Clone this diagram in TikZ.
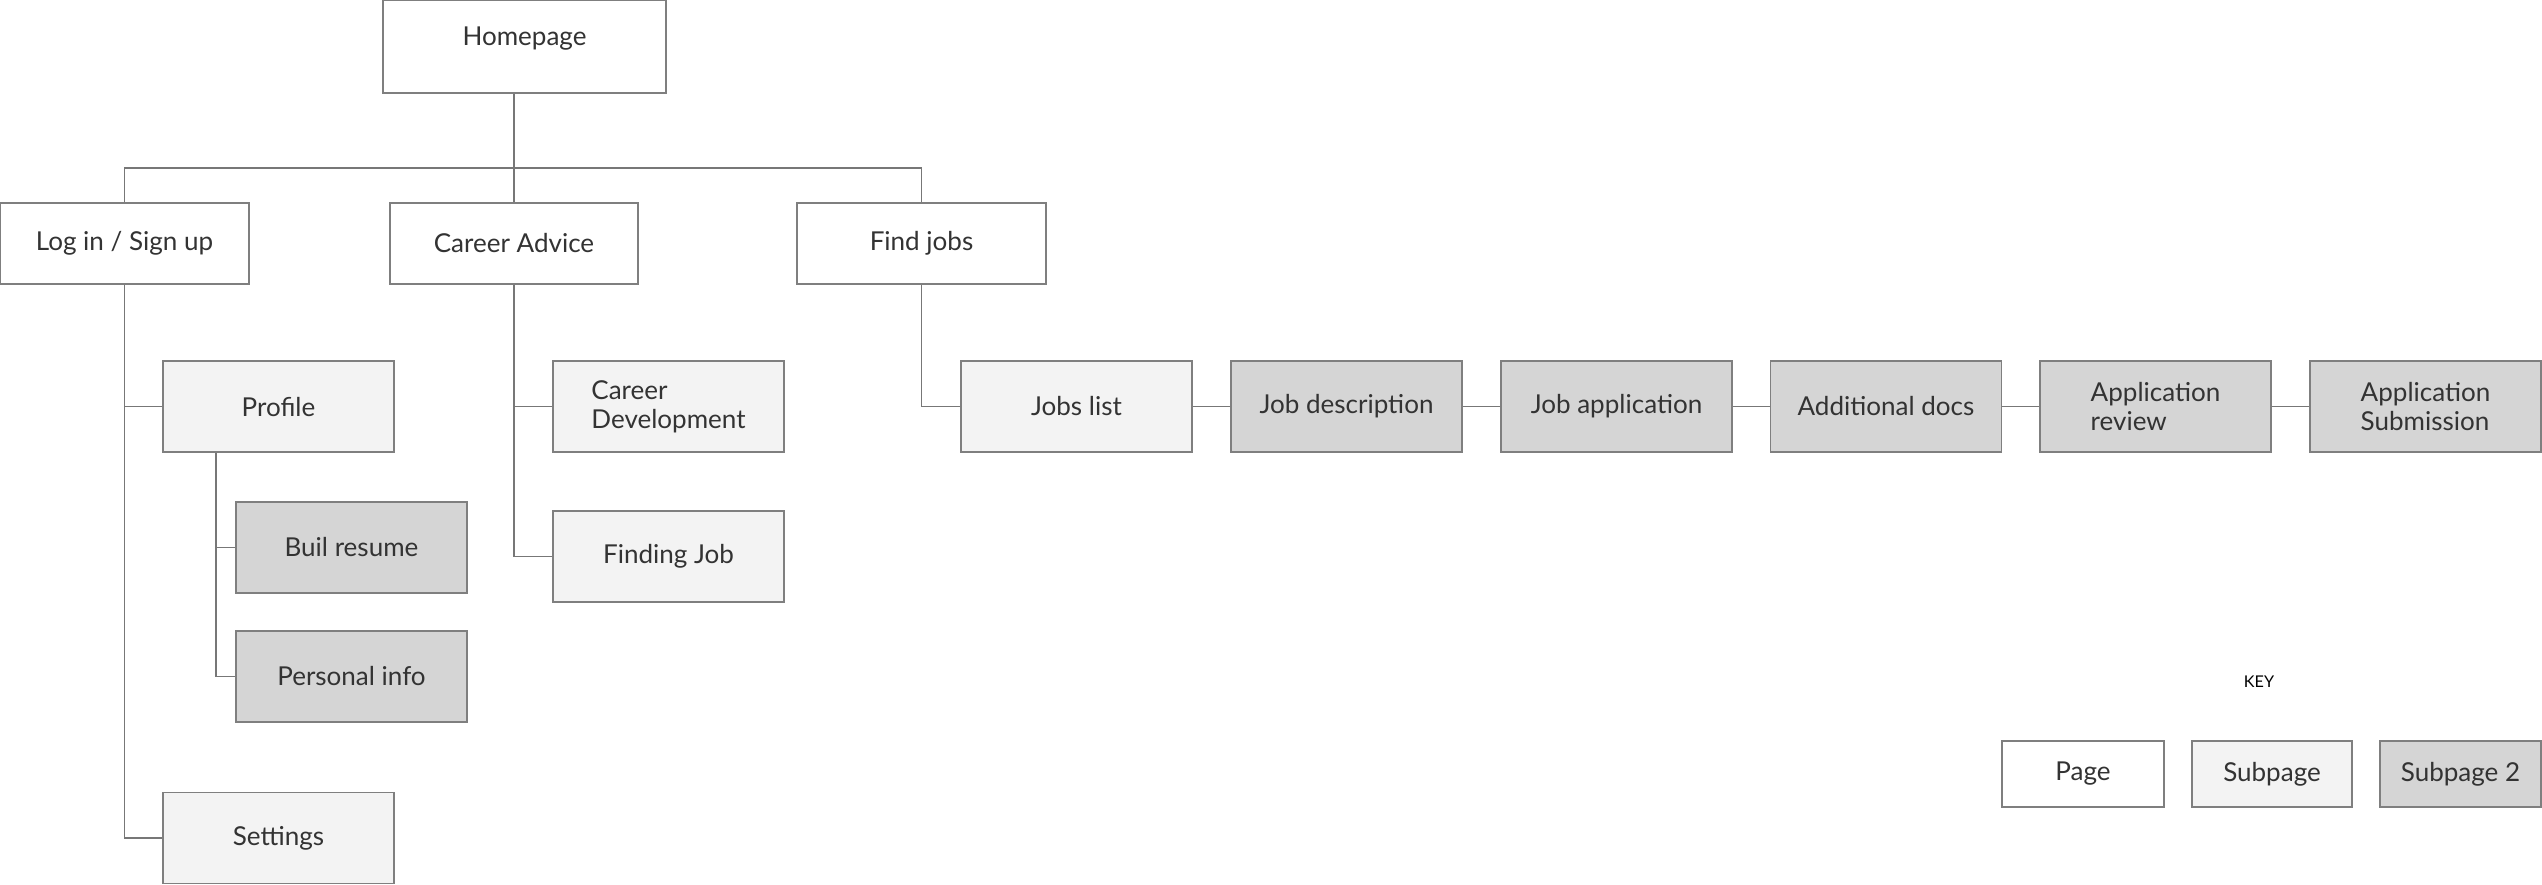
\documentclass[tikz,border=0pt]{standalone}
\usepackage{fontspec}
\setmainfont{Lato}
\definecolor{boxline}{HTML}{7F7F7F}
\definecolor{linkline}{HTML}{777777}
\definecolor{txt}{HTML}{333333}
\definecolor{subfill}{HTML}{F3F3F3}
\definecolor{sub2fill}{HTML}{D5D5D5}
\tikzset{
  page/.style={draw=boxline, line width=0.45pt, fill=white, text=txt, align=left,
    font=\fontsize{7.4}{8.2}\selectfont, inner sep=0pt},
  subpage/.style={page, fill=subfill},
  subpagetwo/.style={page, fill=sub2fill},
  link/.style={draw=linkline, line width=0.4pt}
}
\begin{document}
\begin{tikzpicture}[x=0.01cm,y=-0.01cm]
\useasboundingbox (0,0) rectangle (2542,884);
\node[page, minimum width=2.83cm, minimum height=0.93cm,
  label={[text=txt, font=\fontsize{7.4}{8.2}\selectfont, yshift=0.075cm]center:Homepage}] (home) at (524.5,46.5) {};
\node[page, minimum width=2.49cm, minimum height=0.81cm] (login) at (124.5,243.5) {Log in / Sign up};
\node[page, minimum width=2.48cm, minimum height=0.81cm] (advice) at (514,243.5) {Career Advice};
\node[page, minimum width=2.49cm, minimum height=0.81cm] (find) at (921.5,243.5) {Find jobs};

\node[subpage, minimum width=2.31cm, minimum height=0.91cm] (profile) at (278.5,406.5) {Profile};
\node[subpagetwo, minimum width=2.31cm, minimum height=0.91cm] (resume) at (351.5,547.5) {Buil resume};
\node[subpagetwo, minimum width=2.31cm, minimum height=0.91cm] (personal) at (351.5,676.5) {Personal info};
\node[subpage, minimum width=2.31cm, minimum height=0.91cm] (settings) at (278.5,838) {Settings};

\node[subpage, minimum width=2.31cm, minimum height=0.91cm] (careerdev) at (668.5,406.5) {Career\\Development};
\node[subpage, minimum width=2.31cm, minimum height=0.91cm] (finding) at (668.5,556.5) {Finding Job};

\node[subpage, minimum width=2.31cm, minimum height=0.91cm] (jobs) at (1076.5,406.5) {Jobs list};
\node[subpagetwo, minimum width=2.31cm, minimum height=0.91cm] (desc) at (1346.5,406.5) {Job description};
\node[subpagetwo, minimum width=2.31cm, minimum height=0.91cm] (apply) at (1616.5,406.5) {Job application};
\node[subpagetwo, minimum width=2.31cm, minimum height=0.91cm] (docs) at (1886,406.5) {Additional docs};
\node[subpagetwo, minimum width=2.31cm, minimum height=0.91cm] (review) at (2155.5,406.5) {Application\\review};
\node[subpagetwo, minimum width=2.31cm, minimum height=0.91cm] (submit) at (2425.5,406.5) {Application\\Submission};

\node[text=black, font=\fontsize{4.6}{5}\selectfont] (key) at (2259,682) {KEY};
\node[page, minimum width=1.62cm, minimum height=0.66cm] (keypage) at (2083,774) {Page};
\node[subpage, minimum width=1.60cm, minimum height=0.66cm] (keysub) at (2272,774) {Subpage};
\node[subpagetwo, minimum width=1.61cm, minimum height=0.66cm] (keysubtwo) at (2460.5,774) {Subpage 2};

\coordinate (hub) at (514,168);
\coordinate (pstem) at ([xshift=-0.625cm]profile.south);

\path[link] (advice.north |- home.south) -- (advice.north);
\path[link] (login.north) |- (hub) -| (find.north);
\path[link] (login.south) |- (settings.west);
\path[link] (login.south |- profile.west) -- (profile.west);
\path[link] (pstem) |- (personal.west);
\path[link] (pstem |- resume.west) -- (resume.west);
\path[link] (advice.south) |- (finding.west);
\path[link] (advice.south |- careerdev.west) -- (careerdev.west);
\path[link] (find.south) |- (jobs.west);
\path[link] (jobs) -- (desc);
\path[link] (desc) -- (apply);
\path[link] (apply) -- (docs);
\path[link] (docs) -- (review);
\path[link] (review) -- (submit);
\end{tikzpicture}
\end{document}
